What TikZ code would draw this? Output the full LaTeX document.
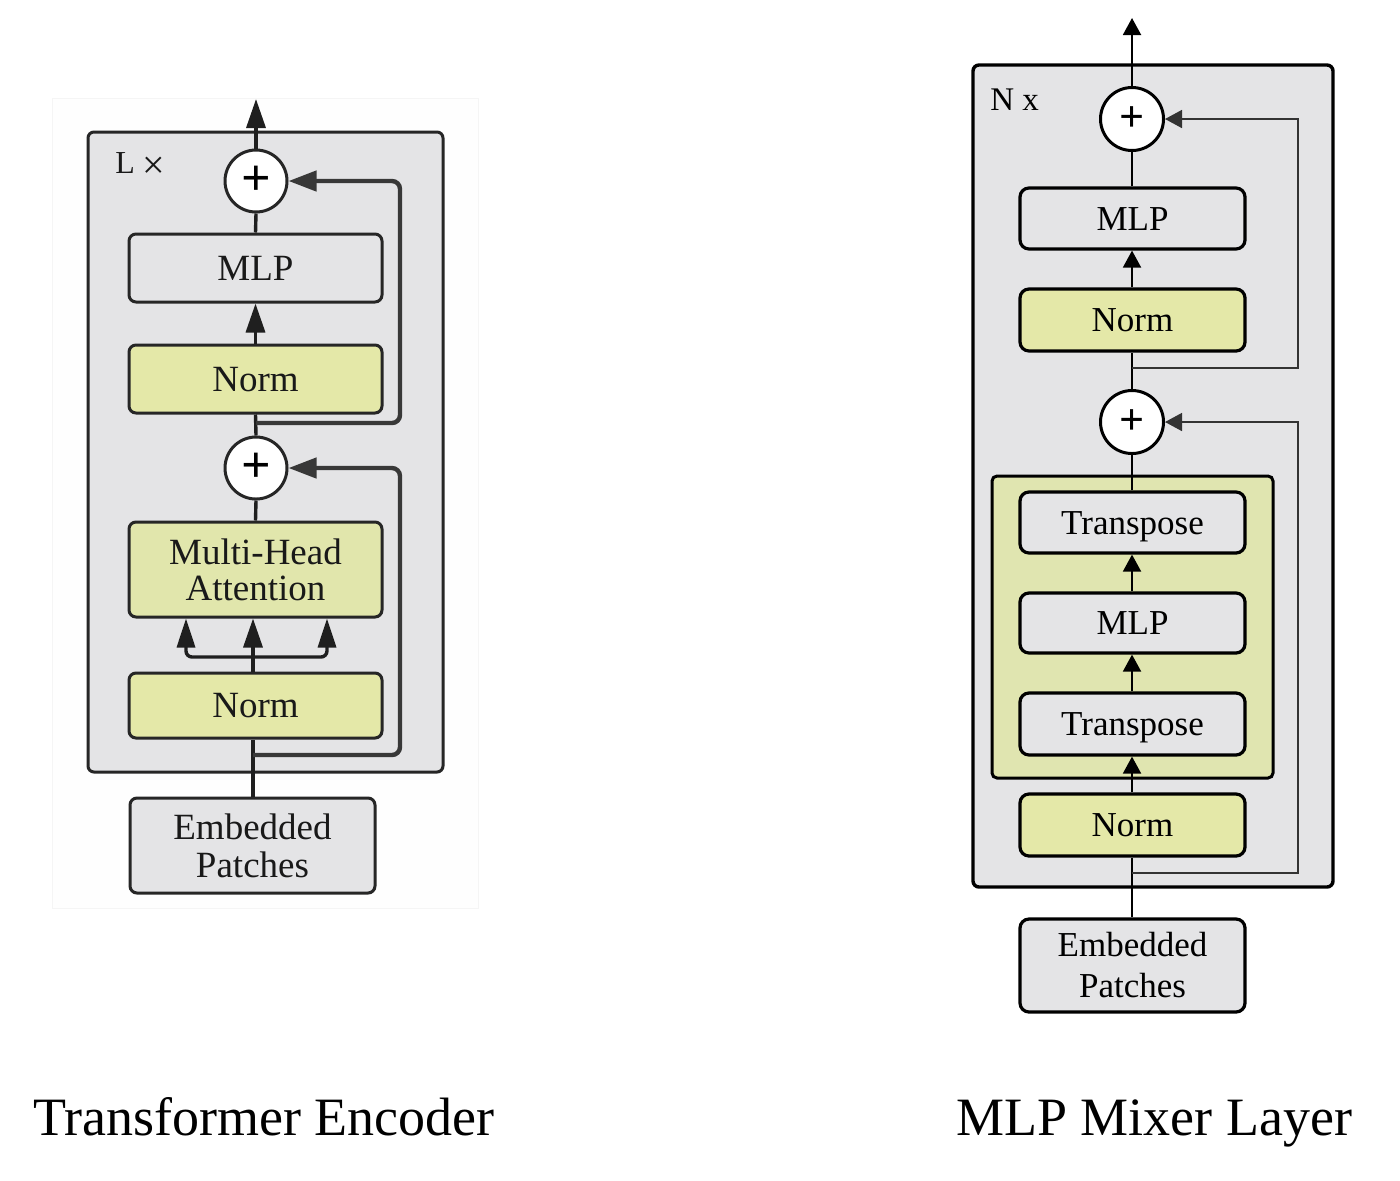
\documentclass[tikz,border=0pt]{standalone}
\usepackage{fontspec}
\setmainfont{Liberation Serif}
\usetikzlibrary{arrows.meta,calc}
\definecolor{boxgray}{HTML}{E4E4E6}
\definecolor{normyel}{HTML}{E4E8A8}
\definecolor{mhayel}{HTML}{E1E6AC}
\definecolor{mixyel}{HTML}{E0E5B0}
\begin{document}
\begin{tikzpicture}[x=0.5pt,y=-0.5pt,
  frame/.style={draw=gray!8, line width=0.5pt, fill=white!99!gray, inner sep=0pt},
  lcont/.style={draw=black!85, line width=1.5pt, rounded corners=3pt, fill=boxgray, inner sep=0pt},
  lbox/.style={draw=black!85, line width=1.5pt, rounded corners=3.5pt, inner sep=0pt, minimum width=126.5pt,
    font=\fontsize{18.5}{18}\selectfont, text=black!90},
  lone/.style={lbox, text height=12.2pt, text depth=0pt},
  lcirc/.style={circle, draw=black!85, line width=1.5pt, fill=white, minimum size=31pt, inner sep=0pt,
    font=\fontsize{26}{26}\selectfont\bfseries},
  lcon/.style={draw=black!88, line width=1.7pt},
  larr/.style={lcon, -{Triangle[length=14.5pt,width=9.5pt]}},
  lskip/.style={draw=black!78, line width=2.2pt, rounded corners=4pt, -{Triangle[length=14pt,width=10pt]}},
  rcont/.style={draw=black, line width=1.7pt, rounded corners=3pt, fill=boxgray, inner sep=0pt},
  rbox/.style={draw=black, line width=1.6pt, rounded corners=4.5pt, inner sep=0pt, minimum width=112.5pt,
    font=\fontsize{17.5}{20.5}\selectfont},
  rone/.style={rbox, text height=11.6pt, text depth=0pt},
  rcirc/.style={circle, draw=black, line width=1.5pt, fill=white, minimum size=31.5pt, inner sep=0pt,
    font=\fontsize{22}{22}\selectfont\bfseries},
  rcon/.style={draw=black, line width=1pt},
  rarr/.style={rcon, -{Triangle[length=8.5pt,width=9pt]}},
  rskip/.style={draw=black!80, line width=0.8pt, -{Triangle[length=8.5pt,width=9pt]}},
  title/.style={anchor=base, font=\fontsize{27}{30}\selectfont}
]
\useasboundingbox (0,0) rectangle (1400,1180);

% ---------------- Transformer Encoder ----------------
\node[frame, minimum width=213pt, minimum height=405pt] (leftframe) at (265,503) {};
\node[lcont, minimum width=177.5pt, minimum height=320pt] (encbox) at (265.5,452) {};
\node[anchor=base west, font=\fontsize{16}{16}\selectfont, text=black!90, inner sep=0pt] (lx) at (115,173) {L \raisebox{-2.5pt}{\fontsize{20}{20}\selectfont ×}};

\node[lcirc] (c1) at (256,181) {+};
\node[lone, fill=boxgray, minimum height=34pt] (mlp1) at (255.5,268) {MLP};
\node[lone, fill=normyel, minimum height=34pt] (norm1) at (255.5,379) {Norm};
\node[lcirc] (c2) at (256,468) {+};
\node[lbox, fill=mhayel, minimum height=47.5pt, align=center] (mha) at (255.5,569.5) {Multi-Head\\Attention};
\node[lone, fill=normyel, minimum height=32.5pt] (norm2) at (255.5,705.5) {Norm};
\node[lbox, fill=boxgray, minimum width=122.5pt, minimum height=47.5pt, align=center,
  font=\fontsize{18.5}{19}\selectfont] (emb1) at (252.5,845.5) {Embedded\\Patches};

\coordinate (ltop) at (256,99);
\coordinate (s1) at (256,423);
\coordinate (s1r) at (400,423);
\coordinate (s2) at (253,755);
\coordinate (s2r) at (400,755);
\coordinate (qa) at (186,657);
\coordinate (qc) at (327,657);
\coordinate (qm) at (253,657);

\draw[larr] (c1.north) -- (ltop);
\draw[lcon] (mlp1.north) -- (c1.south);
\draw[larr] (norm1.north) -- (mlp1.south);
\draw[lcon] (c2.north) -- (norm1.south);
\draw[lcon] (mha.north) -- (c2.south);
\draw[larr] (norm2.north -| qm) -- (mha.south -| qm);
\draw[lcon, rounded corners=3pt, -{Triangle[length=14.5pt,width=9pt]}] (qm) -- (qa) -- (qa |- mha.south);
\draw[lcon, rounded corners=3pt, -{Triangle[length=14.5pt,width=9pt]}] (qm) -- (qc) -- (qc |- mha.south);
\draw[lcon] (emb1.north -| s2) -- (norm2.south -| s2);
\draw[lskip] (s1) -- (s1r) |- (c1.east);
\draw[lskip] (s2) -- (s2r) |- (c2.east);

\node[title] (t1) at (264,1135) {Transformer Encoder};

% ---------------- MLP Mixer Layer ----------------
\node[rcont, minimum width=180pt, minimum height=411pt] (mixerbox) at (1153,476) {};
\node[anchor=base west, font=\fontsize{16.5}{16.5}\selectfont, inner sep=0pt] (nx) at (990,110) {N x};

\node[rcirc] (c3) at (1132,119) {+};
\node[rone, fill=boxgray, minimum height=30.5pt] (mlp2) at (1132.5,218.5) {MLP};
\node[rone, fill=normyel, minimum height=31pt] (norm3) at (1132.5,320) {Norm};
\node[rcirc] (c4) at (1132,422) {+};
\node[draw=black, line width=1.5pt, rounded corners=2.5pt, fill=mixyel, inner sep=0pt,
  minimum width=140.5pt, minimum height=151pt] (mixbox) at (1132.5,627) {};
\node[rone, fill=boxgray, minimum height=30.5pt] (tr1) at (1132.5,522.5) {Transpose};
\node[rone, fill=boxgray, minimum height=30pt] (mlp3) at (1132.5,623) {MLP};
\node[rone, fill=boxgray, minimum height=31pt] (tr2) at (1132.5,724) {Transpose};
\node[rone, fill=normyel, minimum height=31pt] (norm4) at (1132.5,825) {Norm};
\node[rbox, fill=boxgray, minimum height=46.5pt, align=center] (emb2) at (1132.5,965.5) {Embedded\\Patches};

\coordinate (rtop) at (1132,18);
\coordinate (s3) at (1132,368);
\coordinate (s3r) at (1298,368);
\coordinate (s4) at (1132,873);
\coordinate (s4r) at (1298,873);

\draw[rarr] (c3.north) -- (rtop);
\draw[rcon] (mlp2.north -| c3) -- (c3.south);
\draw[rarr] (norm3.north -| c3) -- (mlp2.south -| c3);
\draw[rcon] (c4.north) -- (norm3.south -| c4);
\draw[rcon] (tr1.north -| c4) -- (c4.south);
\draw[rarr] (mlp3.north -| c4) -- (tr1.south -| c4);
\draw[rarr] (tr2.north -| c4) -- (mlp3.south -| c4);
\draw[rarr] (norm4.north -| c4) -- (tr2.south -| c4);
\draw[rcon] (emb2.north -| c4) -- (norm4.south -| c4);
\draw[rskip] (s3) -- (s3r) |- (c3.east);
\draw[rskip] (s4) -- (s4r) |- (c4.east);

\node[title] (t2) at (1154,1135) {MLP Mixer Layer};
\end{tikzpicture}
\end{document}
